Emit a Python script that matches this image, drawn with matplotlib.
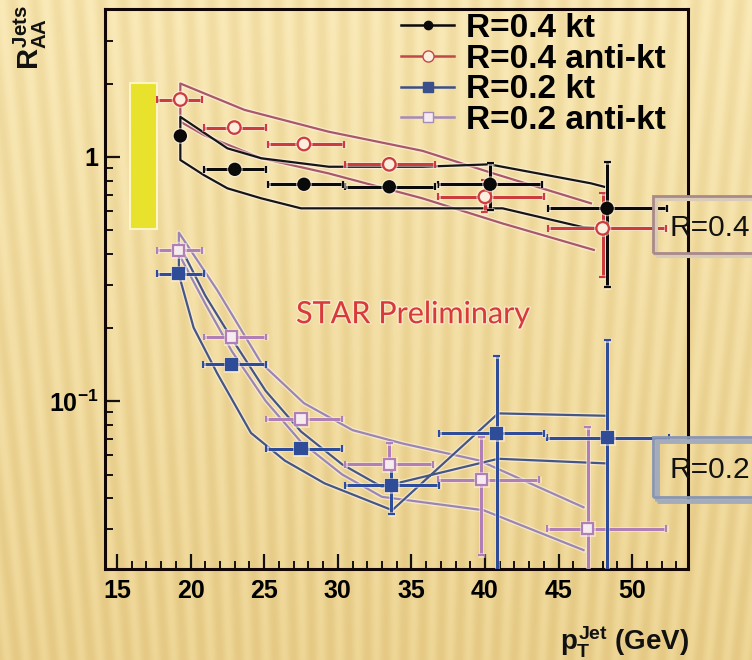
import matplotlib
matplotlib.use('Agg')
import matplotlib.pyplot as plt
import numpy as np
from matplotlib.lines import Line2D
from matplotlib.patches import Rectangle
import matplotlib.patheffects as pe
from matplotlib.ticker import MultipleLocator, LogLocator, NullFormatter

plt.rcParams['font.family'] = ['Liberation Sans', 'DejaVu Sans']
plt.rcParams['mathtext.fontset'] = 'custom'
plt.rcParams['mathtext.rm'] = 'Liberation Sans:bold'
plt.rcParams['mathtext.it'] = 'Liberation Sans:bold'
plt.rcParams['mathtext.bf'] = 'Liberation Sans:bold'

# R=0.4 kt (black, filled circles)
kt4_x = [19.3, 23.0, 27.7, 33.5, 40.35, 48.3]
kt4_y = [1.22, 0.89, 0.773, 0.755, 0.773, 0.616]
kt4_xlo = [19.3, 20.9, 25.25, 30.5, 36.8, 44.3]
kt4_xhi = [19.3, 25.1, 30.35, 36.6, 43.9, 52.35]
kt4_ylo = [1.22, 0.89, 0.773, 0.755, 0.606, 0.294]
kt4_yhi = [1.22, 0.89, 0.773, 0.755, 0.942, 0.957]

# R=0.4 anti-kt (red, open circles)
akt4_x = [19.3, 22.97, 27.7, 33.5, 40.0, 48.0]
akt4_y = [1.72, 1.32, 1.13, 0.933, 0.687, 0.51]
akt4_xlo = [17.74, 20.9, 25.25, 30.5, 36.8, 44.3]
akt4_xhi = [20.8, 25.1, 30.4, 36.6, 44.0, 52.3]
akt4_ylo = [1.72, 1.32, 1.13, 0.933, 0.596, 0.323]
akt4_yhi = [1.72, 1.32, 1.13, 0.933, 0.804, 0.71]

# R=0.2 kt (blue, filled squares)
kt2_x = [19.2, 22.8, 27.5, 33.65, 40.8, 48.3]
kt2_y = [0.333, 0.1415, 0.0638, 0.0451, 0.0739, 0.0708]
kt2_xlo = [17.7, 20.85, 25.1, 30.5, 36.9, 44.2]
kt2_xhi = [20.9, 25.1, 30.3, 36.9, 44.0, 52.5]
kt2_ylo = [0.333, 0.1415, 0.061, 0.0344, 0.015, 0.015]
kt2_yhi = [0.333, 0.1415, 0.067, 0.0553, 0.1526, 0.1775]

# R=0.2 anti-kt (lavender, open squares)
akt2_x = [19.2, 22.8, 27.5, 33.5, 39.75, 47.0]
akt2_y = [0.415, 0.183, 0.0844, 0.055, 0.0476, 0.0300]
akt2_xlo = [17.7, 20.9, 25.1, 30.5, 36.8, 44.2]
akt2_xhi = [20.8, 25.1, 30.3, 36.5, 43.7, 52.3]
akt2_ylo = [0.415, 0.183, 0.0844, 0.052, 0.0233, 0.015]
akt2_yhi = [0.415, 0.183, 0.0844, 0.067, 0.0713, 0.0782]

# systematic band edges
kt4_up_x = [19.3, 22.5, 24.8, 29.4, 35.75, 40.3, 47.2, 48.1]
kt4_up_y = [1.46, 1.085, 0.988, 0.912, 0.912, 0.933, 0.78, 0.755]
kt4_lo_x = [19.3, 20.9, 22.5, 24.8, 27.5, 41.2, 46.7, 48.1]
kt4_lo_y = [0.972, 0.843, 0.744, 0.677, 0.616, 0.616, 0.515, 0.51]
akt4_up_x = [19.3, 23.65, 29.36, 35.75, 40.55, 47.2]
akt4_up_y = [2.0, 1.56, 1.27, 1.06, 0.857, 0.646]
akt4_lo_x = [19.3, 20.9, 24.8, 29.36, 35.75, 41.2, 47.4]
akt4_lo_y = [1.396, 1.23, 0.988, 0.857, 0.677, 0.534, 0.416]
kt2_a_x = [19.2, 20.2, 21.8, 24.1, 26.4, 29.1, 33.7, 40.9, 48.3]
kt2_a_y = [0.33, 0.20, 0.13, 0.074, 0.057, 0.046, 0.0357, 0.089, 0.087]
kt2_b_x = [19.2, 21.0, 22.8, 25.1, 27.5, 30.3, 33.0, 40.9, 48.3]
kt2_b_y = [0.44, 0.27, 0.18, 0.11, 0.075, 0.055, 0.0445, 0.058, 0.0555]
akt2_a_x = [19.2, 21.8, 24.8, 27.7, 31.0, 34.4, 39.6, 46.7]
akt2_a_y = [0.49, 0.285, 0.143, 0.098, 0.076, 0.067, 0.0571, 0.0367]
akt2_b_x = [19.2, 21.0, 22.8, 25.1, 27.5, 30.3, 33.0, 39.9, 46.7]
akt2_b_y = [0.40, 0.25, 0.16, 0.10, 0.068, 0.050, 0.0405, 0.0357, 0.0245]

# global normalisation uncertainty box
norm_x = [15.9, 17.72]
norm_y = [0.507, 2.01]

W, H = 752, 660
fig = plt.figure(figsize=(W / 100, H / 100), dpi=100)

# beige background with soft, nearly vertical rays
yy, xx = np.mgrid[0:H, 0:W]
theta = np.arctan2(xx - 376.0, 4000.0 - yy)
stripe = 0.5 + 0.5 * np.cos(2 * np.pi * theta / (22.0 / 4000.0))
t = (yy / H)[..., None]
light = (1 - t) * np.array([250, 234, 184]) + t * np.array([238, 214, 150])
dark = (1 - t) * np.array([242, 222, 164]) + t * np.array([229, 201, 132])
img = (dark + (light - dark) * stripe[..., None]) / 255.0
bg = fig.add_axes([0, 0, 1, 1], zorder=0)
bg.imshow(img, aspect='auto', interpolation='bilinear')
bg.axis('off')

ax = fig.add_axes([105 / W, 1 - 569 / H, (688 - 105) / W, (569 - 9) / H], zorder=1)
ax.set_facecolor('none')
ax.set_yscale('log')
ax.set_xlim(14.18, 53.8)
ax.set_ylim(0.0205, 4.04)

halo = [pe.Stroke(linewidth=3.5, foreground='#fff4ec', alpha=0.55), pe.Normal()]


def band(ux, uy, lx, ly, color, lw=1.6):
    bx = list(ux[::-1]) + list(lx)
    by = list(uy[::-1]) + list(ly)
    ax.plot(bx, by, color=color, lw=lw, zorder=2, path_effects=halo)


band(akt4_up_x, akt4_up_y, akt4_lo_x, akt4_lo_y, '#a85868')
band(kt4_up_x, kt4_up_y, kt4_lo_x, kt4_lo_y, '#151515')
band(akt2_a_x, akt2_a_y, akt2_b_x, akt2_b_y, '#9a86b2')
band(kt2_a_x, kt2_a_y, kt2_b_x, kt2_b_y, '#445683')


def points(x, y, xlo, xhi, ylo, yhi, color, marker, ms, mfc, lw=2.2):
    x = np.array(x); y = np.array(y)
    xerr = [x - np.array(xlo), np.array(xhi) - x]
    yerr = [y - np.array(ylo), np.array(yhi) - y]
    ax.errorbar(x, y, xerr=xerr, yerr=yerr, fmt=marker, color=color, ms=ms,
                mfc=mfc, mec=color, mew=1.6, elinewidth=lw, capsize=2.5,
                capthick=2.5, zorder=4, path_effects=halo)


points(akt4_x, akt4_y, akt4_xlo, akt4_xhi, akt4_ylo, akt4_yhi, '#cc3c3c', 'o', 9, '#fbeedd')
points(kt4_x, kt4_y, kt4_xlo, kt4_xhi, kt4_ylo, kt4_yhi, '#0a0a0a', 'o', 8, '#0a0a0a')
points(akt2_x, akt2_y, akt2_xlo, akt2_xhi, akt2_ylo, akt2_yhi, '#b07fb5', 's', 8, '#f6ecef')
points(kt2_x, kt2_y, kt2_xlo, kt2_xhi, kt2_ylo, kt2_yhi, '#2f4c98', 's', 8, '#2f4c98')

ax.add_patch(Rectangle((norm_x[0], norm_y[0]), norm_x[1] - norm_x[0], norm_y[1] - norm_y[0],
                       facecolor='#e9e22c', edgecolor='#fdf6c4', lw=1.5, zorder=3))

ax.text(35.1, 0.227, 'STAR Preliminary', color='#d83a3a', fontsize=22,
        family=['Lato', 'DejaVu Sans'], ha='center', va='center', zorder=5,
        path_effects=[pe.Stroke(linewidth=2, foreground='#fff4ec', alpha=0.6), pe.Normal()])

# axes styling
for side in ['left', 'bottom', 'top', 'right']:
    ax.spines[side].set_linewidth(2.2)
    ax.spines[side].set_color('#120505')
ax.xaxis.set_major_locator(MultipleLocator(5))
ax.xaxis.set_minor_locator(MultipleLocator(1))
ax.set_yticks([0.1, 1])
ax.set_yticklabels([r'$10^{-1}$', '1'])
ax.yaxis.set_minor_locator(LogLocator(base=10, subs=np.arange(2, 10)))
ax.yaxis.set_minor_formatter(NullFormatter())
ax.tick_params(which='both', direction='in', top=False, right=False, color='#111111')
ax.tick_params(which='major', length=11, width=1.6)
ax.tick_params(which='minor', length=6, width=1.4)
ax.tick_params(axis='x', which='major', labelsize=18, pad=7)
ax.tick_params(axis='y', which='major', labelsize=18, pad=5)
for lab in ax.get_xticklabels() + ax.get_yticklabels():
    lab.set_fontweight('bold')

handles = [
    Line2D([], [], color='#0a0a0a', marker='o', ms=6, lw=1.8),
    Line2D([], [], color='#c04848', marker='o', ms=8, mfc='#fbeedd', lw=1.8),
    Line2D([], [], color='#3a508a', marker='s', ms=7, lw=1.8),
    Line2D([], [], color='#a58abb', marker='s', ms=7, mfc='#f6ecef', lw=1.8),
]
labels = ['R=0.4 kt', 'R=0.4 anti-kt', 'R=0.2 kt', 'R=0.2 anti-kt']
ax.legend(handles, labels, loc='upper left', bbox_to_anchor=(401 / W, 1 - 13 / H),
          bbox_transform=fig.transFigure, frameon=False, handlelength=1.6,
          handletextpad=0.35, labelspacing=-0.01, borderpad=0, borderaxespad=0,
          prop={'weight': 'bold', 'size': 24})

# side boxes
fig.patches.append(Rectangle((656 / W, 1 - 256 / H), 120 / W, 57 / H, transform=fig.transFigure,
                             facecolor='none', edgecolor='#d9cbb8', lw=3, zorder=2))
fig.patches.append(Rectangle((653 / W, 1 - 253 / H), 120 / W, 57 / H, transform=fig.transFigure,
                             facecolor='none', edgecolor='#a98a8a', lw=2, zorder=2))
fig.text(669 / W, 1 - 228 / H, 'R=0.4', fontsize=21.5, color='#111111', ha='left', va='center')
fig.patches.append(Rectangle((657 / W, 1 - 501 / H), 120 / W, 60 / H, transform=fig.transFigure,
                             facecolor='none', edgecolor='#a4acbc', lw=3.5, zorder=2))
fig.patches.append(Rectangle((653 / W, 1 - 497 / H), 120 / W, 60 / H, transform=fig.transFigure,
                             facecolor='none', edgecolor='#8796b4', lw=2, zorder=2))
fig.text(669 / W, 1 - 470 / H, 'R=0.2', fontsize=21.5, color='#111111', ha='left', va='center')

fig.text(30 / W, 1 - 38 / H, r'$R_{AA}^{Jets}$', rotation=90, fontsize=21,
         ha='center', va='center', color='#111111')
fig.text(689 / W, 1 - 642 / H, r'$p_{T}^{Jet}$ (GeV)', fontsize=20, fontweight='bold',
         ha='right', va='center', color='#111111')

fig.savefig('out.png', dpi=100)
